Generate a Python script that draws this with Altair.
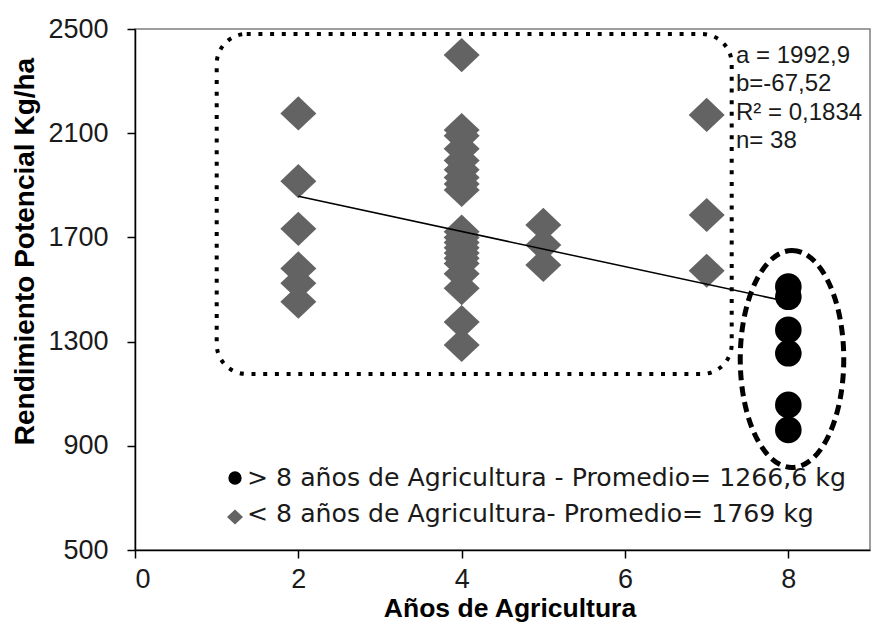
import altair as alt
import pandas as pd

# Rendimiento potencial (kg/ha) según años de agricultura
# Fincas con menos de 8 años de agricultura
anios_menos_8 = [2, 2, 2, 2, 2, 2,
                 4, 4, 4, 4, 4, 4, 4, 4, 4, 4, 4, 4, 4, 4, 4, 4, 4, 4, 4, 4,
                 5, 5, 5,
                 7, 7, 7]
rend_menos_8 = [2176, 1916, 1733, 1581, 1524, 1453,
                2400, 2112, 2090, 2040, 1995, 1960, 1930, 1905, 1882,
                1722, 1700, 1680, 1660, 1640, 1620, 1600, 1560, 1505,
                1375, 1287,
                1748, 1671, 1594,
                2170, 1786, 1572]

# Fincas con 8 o más años de agricultura
anios_mas_8 = [8, 8, 8, 8, 8, 8]
rend_mas_8 = [1511, 1472, 1345, 1255, 1057, 961]

# Recta de regresión: rend = a + b * años
coef_a = 1992.9
coef_b = -67.52
extremos_x = [2, 8]

stats_lines = ["a = 1992,9", "b=-67,52", "R² = 0,1834", "n= 38"]
legend_lines = ["> 8 años de Agricultura - Promedio= 1266,6 kg",
                "< 8 años de Agricultura- Promedio= 1769 kg"]
x_ticks = [0, 2, 4, 6, 8]
y_ticks = [500, 900, 1300, 1700, 2100, 2500]

df_menos = pd.DataFrame({"anios": anios_menos_8, "rend": rend_menos_8})
df_mas = pd.DataFrame({"anios": anios_mas_8, "rend": rend_mas_8})
df_reg = pd.DataFrame({"anios": extremos_x})
one_row = pd.DataFrame({"k": [0]})

DIAMOND = "M-1,0L0,-0.95L1,0L0,0.95Z"
ELLIPSE = "M0,-1A0.477,1 0 1,1 0,1A0.477,1 0 1,1 0,-1Z"
GRAY = "#636363"

x_enc = alt.X(
    "anios:Q",
    scale=alt.Scale(domain=[0, 9], nice=False, zero=False),
    axis=alt.Axis(values=x_ticks, format="d", title="Años  de Agricultura",
                  labelPadding=8, titleX=374.5, titleY=66,
                  titleBaseline="alphabetic", titleAlign="center",
                  titleFontSize=26.5, labelOverlap=False),
)
y_enc = alt.Y(
    "rend:Q",
    scale=alt.Scale(domain=[500, 2500], nice=False, zero=False),
    axis=alt.Axis(values=y_ticks, format="d", title="Rendimiento Potencial Kg/ha",
                  labelPadding=19, titleX=-110, titleY=222, titleAngle=270,
                  titleAlign="center", titleBaseline="middle", labelOverlap=False),
)

# Recuadro punteado alrededor de las fincas jóvenes
box = alt.Chart(one_row).mark_rect(
    fill="transparent", stroke="black", strokeWidth=4, strokeDash=[4, 7.7],
    cornerRadius=30,
).encode(x=alt.value(81.7), x2=alt.value(596.7), y=alt.value(5), y2=alt.value(345))

# Elipse discontinua alrededor de las fincas de 8 años
ellipse = alt.Chart(one_row).mark_point(
    shape=ELLIPSE, size=47089, filled=False, stroke="black", strokeWidth=5,
    strokeDash=[10, 6], opacity=1,
).encode(x=alt.value(657), y=alt.value(330))

diamonds = alt.Chart(df_menos).mark_point(
    shape=DIAMOND, size=1296, filled=True, color=GRAY, opacity=1, strokeWidth=0,
).encode(x=x_enc, y=y_enc)

reg_line = alt.Chart(df_reg).transform_calculate(
    rend=f"{coef_a} + ({coef_b}) * datum.anios"
).mark_line(color="black", strokeWidth=1.5).encode(x=x_enc, y=y_enc)

circles = alt.Chart(df_mas).mark_circle(size=707, color="black", opacity=1).encode(
    x=x_enc, y=y_enc)

stats = alt.Chart(one_row).mark_text(
    text=stats_lines, align="left", baseline="alphabetic", font="Liberation Sans",
    fontSize=24, lineHeight=28.2, color="#1a1a1a",
).encode(x=alt.value(601), y=alt.value(34.3))

leg_circle = alt.Chart(one_row).mark_circle(size=177, color="black", opacity=1).encode(
    x=alt.value(100), y=alt.value(449))
leg_diamond = alt.Chart(one_row).mark_point(
    shape=DIAMOND, size=256, filled=True, color=GRAY, opacity=1, strokeWidth=0,
).encode(x=alt.value(100), y=alt.value(488))
leg_text1 = alt.Chart(one_row).mark_text(
    text=legend_lines[0], align="left", baseline="alphabetic", font="DejaVu Sans",
    fontSize=25.2, color="#1a1a1a",
).encode(x=alt.value(112), y=alt.value(457))
leg_text2 = alt.Chart(one_row).mark_text(
    text=legend_lines[1], align="left", baseline="alphabetic", font="DejaVu Sans",
    fontSize=25.2, color="#1a1a1a",
).encode(x=alt.value(112), y=alt.value(492.7))

chart = alt.layer(
    box, ellipse, diamonds, reg_line, circles, stats,
    leg_circle, leg_diamond, leg_text1, leg_text2,
).properties(
    width=735, height=521,
    autosize=alt.AutoSizeParams(type="none"),
    padding={"left": 135, "top": 29, "right": 2, "bottom": 72},
    background="white",
).configure_view(
    stroke="#7f7f7f", strokeWidth=1.5,
).configure_axis(
    domainColor="black", domainWidth=1.5, tickColor="black", tickWidth=1.5,
    tickSize=8, grid=False,
    labelFont="Liberation Sans", labelFontSize=27, labelColor="#1a1a1a",
    titleFont="Liberation Sans", titleFontSize=28, titleFontWeight="bold",
    titleColor="black",
)

chart.save("out.html", embed_options={"renderer": "svg", "actions": False})
